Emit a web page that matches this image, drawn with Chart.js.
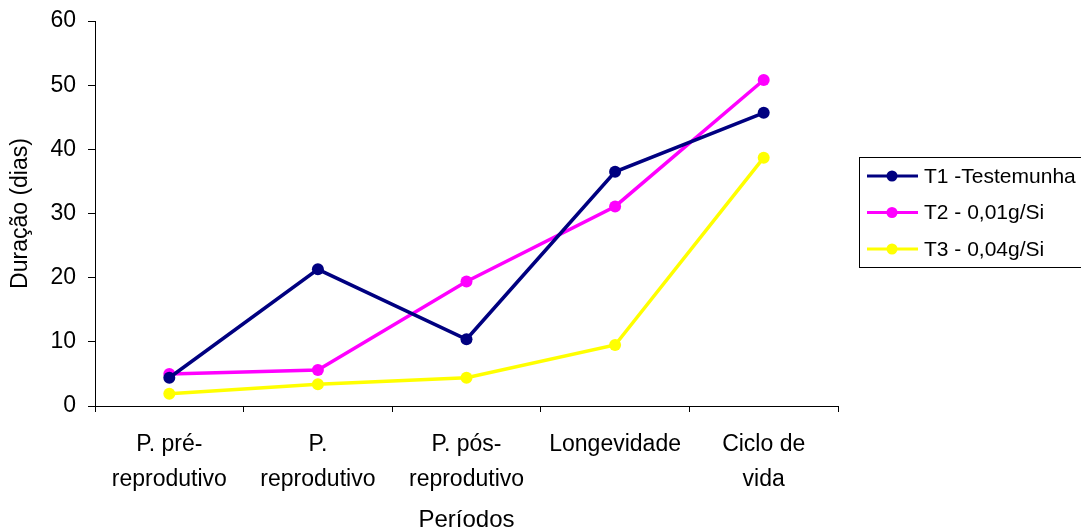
<!DOCTYPE html>
<html>
<head>
<meta charset="utf-8">
<script src="https://cdn.jsdelivr.net/npm/chart.js@4/dist/chart.umd.min.js"></script>
<style>
  html, body { margin: 0; padding: 0; background: #fff; }
  #wrap { width: 1081px; height: 530px; position: relative; }
</style>
</head>
<body>
<div id="wrap"><canvas id="chart"></canvas></div>
<script>
// Duração dos períodos por tratamento

const categories = [
    ['P. pré-', 'reprodutivo'],
    ['P.', 'reprodutivo'],
    ['P. pós-', 'reprodutivo'],
    'Longevidade',
    ['Ciclo de', 'vida']
];

const t1 = [4.4, 21.3, 10.4, 36.5, 45.7];
const t2 = [5.0, 5.6, 19.4, 31.1, 50.8];
const t3 = [1.9, 3.4, 4.4, 9.5, 38.7];

const seriesLabels = ['T1 -Testemunha', 'T2 - 0,01g/Si', 'T3 - 0,04g/Si'];
const seriesColors = ['#000080', '#ff00ff', '#ffff00'];

const FONT = "'Liberation Sans', Arial, sans-serif";

function makeSet(label, values, color) {
    return {
        label: label,
        data: values,
        borderColor: color,
        backgroundColor: color,
        pointBackgroundColor: color,
        pointBorderWidth: 0,
        pointRadius: 6,
        borderWidth: 3.5,
        tension: 0
    };
}

// legend with line + dot samples, boxed
const boxLegend = {
    id: 'boxLegend',
    afterDraw(chart) {
        const ctx = chart.ctx;
        const area = chart.chartArea;
        const x = area.right + 21;
        const h = 110;
        const y = 157;
        ctx.save();
        ctx.strokeStyle = '#000';
        ctx.lineWidth = 1;
        ctx.strokeRect(x + 0.5, y + 0.5, 1081 - x + 5, h);
        ctx.font = '21px ' + FONT;
        ctx.textBaseline = 'middle';
        ctx.fillStyle = '#000';
        chart.data.datasets.forEach((ds, i) => {
            const cy = y + 19 + i * 36.5;
            ctx.strokeStyle = ds.borderColor;
            ctx.lineWidth = 3;
            ctx.beginPath();
            ctx.moveTo(x + 8, cy);
            ctx.lineTo(x + 59, cy);
            ctx.stroke();
            ctx.fillStyle = ds.borderColor;
            ctx.beginPath();
            ctx.arc(x + 33, cy, 5.5, 0, Math.PI * 2);
            ctx.fill();
            ctx.fillStyle = '#000';
            ctx.fillText(ds.label, x + 65, cy + 1);
        });
        ctx.restore();
    }
};

new Chart(document.getElementById('chart'), {
    type: 'line',
    data: {
        labels: categories,
        datasets: [
            makeSet(seriesLabels[0], t1, seriesColors[0]),
            makeSet(seriesLabels[1], t2, seriesColors[1]),
            makeSet(seriesLabels[2], t3, seriesColors[2])
        ]
    },
    options: {
        responsive: true,
        maintainAspectRatio: false,
        animation: false,
        layout: { padding: { left: 0, right: 243, top: 21, bottom: 0 } },
        plugins: {
            legend: { display: false },
            tooltip: { enabled: false }
        },
        scales: {
            x: {
                offset: true,
                afterFit(scale) {
                    scale.height = 124;
                    scale.paddingLeft = 0;
                    scale.paddingRight = 0;
                },
                grid: {
                    offset: true,
                    drawOnChartArea: false,
                    drawTicks: true,
                    tickLength: 6,
                    color: '#000'
                },
                border: { display: true, color: '#000', width: 1 },
                ticks: {
                    color: '#000',
                    maxRotation: 0,
                    autoSkip: false,
                    padding: 15,
                    font: { family: FONT, size: 23, lineHeight: '35px' }
                },
                title: {
                    display: true,
                    text: 'Períodos',
                    color: '#000',
                    padding: { top: 0, bottom: -2 },
                    font: { family: FONT, size: 24, lineHeight: 1 }
                }
            },
            y: {
                min: 0,
                max: 60,
                afterFit(scale) {
                    scale.width = 95;
                    scale.paddingTop = 0;
                    scale.paddingBottom = 0;
                },
                grid: {
                    drawOnChartArea: false,
                    drawTicks: true,
                    tickLength: 7,
                    color: '#000'
                },
                border: { display: true, color: '#000', width: 1 },
                ticks: {
                    stepSize: 10,
                    color: '#000',
                    padding: 12,
                    font: { family: FONT, size: 23 }
                },
                title: {
                    display: true,
                    text: 'Duração (dias)',
                    color: '#000',
                    padding: { top: 9, bottom: 0 },
                    font: { family: FONT, size: 23, lineHeight: 1 }
                }
            }
        }
    },
    plugins: [boxLegend]
});
</script>
</body>
</html>
